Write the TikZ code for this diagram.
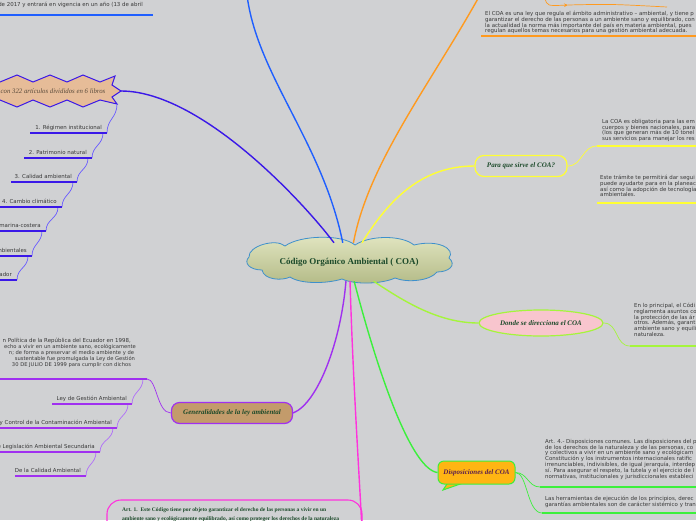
\documentclass[tikz,border=0pt]{standalone}
\usepackage{fontspec}
\setmainfont{Liberation Serif}
\newfontfamily\sansfam{DejaVu Sans}
\usetikzlibrary{shapes.geometric,arrows.meta}

\definecolor{bg}{HTML}{D0D1D3}
\definecolor{blueb}{HTML}{1F5FFF}
\definecolor{indigob}{HTML}{3A18E8}
\definecolor{indigotwig}{HTML}{6A5CFF}
\definecolor{orangeb}{HTML}{FF9A1F}
\definecolor{yellowb}{HTML}{FFFF33}
\definecolor{limeb}{HTML}{A5F53C}
\definecolor{greenb}{HTML}{3CF03C}
\definecolor{magentab}{HTML}{FF33DD}
\definecolor{purpleb}{HTML}{A030F0}
\definecolor{purpletwig}{HTML}{B070F8}
\definecolor{textgray}{HTML}{383838}
\definecolor{titlegreen}{HTML}{1C4A2A}
\definecolor{dispotext}{HTML}{5A1F4F}
\definecolor{cloudtop}{HTML}{E2E6C2}
\definecolor{cloudbot}{HTML}{B3BA86}
\definecolor{cloudedge}{HTML}{3E90CC}
\definecolor{tanfill}{HTML}{C39B6B}
\definecolor{pinkfill}{HTML}{F8C5CE}
\definecolor{calloutfill}{HTML}{FFB513}
\definecolor{starfill}{HTML}{E6BC98}
\definecolor{startext}{HTML}{5A4B3B}

\newcommand\paratextfont{\sansfam\fontsize{5.45pt}{5.8pt}\selectfont}
\newcommand\smallparafont{\sansfam\fontsize{5.2pt}{6pt}\selectfont}
\newcommand\topicfont{\fontsize{7pt}{8pt}\selectfont\bfseries\itshape}
\newcommand\centerfont{\fontsize{9pt}{10pt}\selectfont\bfseries}
\newcommand\artfont{\fontsize{5.5pt}{9pt}\selectfont\bfseries}

\begin{document}
\begin{tikzpicture}[x=1pt,y=-1pt,
  branch/.style={line width=1.4pt},
  twig/.style={line width=0.7pt},
  uline/.style={line width=1.6pt},
  para/.style={font=\paratextfont, align=left, anchor=north west, inner sep=0pt, text=textgray},
  lbl/.style={font=\paratextfont, anchor=base east, inner sep=0pt, text=textgray},
  topicbox/.style={line width=1.2pt, font=\topicfont, text=titlegreen, inner sep=2pt}]
\useasboundingbox (0,0) rectangle (696,520);
\clip (0,0) rectangle (696,520);
\fill[bg] (0,0) rectangle (696,520);

% free ends and underline ends
\coordinate[] (bluetop) at (247,-5);
\coordinate[] (orangetop) at (480,-5);
\coordinate[] (magbot) at (362,530);
\coordinate[] (startip) at (121,91);
\coordinate[] (starfoot) at (117,104);
\coordinate[] (bua) at (0,15);
\coordinate[] (bub) at (153,15);
\coordinate[] (oua) at (481,36);
\coordinate[] (oub) at (700,36);
\coordinate[] (y1a) at (597,146);
\coordinate[] (y1b) at (700,146);
\coordinate[] (y2a) at (597,203);
\coordinate[] (y2b) at (700,203);
\coordinate[] (la) at (630,346);
\coordinate[] (lb) at (700,346);
\coordinate[] (g1a) at (540,487);
\coordinate[] (g1b) at (700,487);
\coordinate[] (g2a) at (542,513);
\coordinate[] (g2b) at (700,513);
\coordinate[] (p0a) at (-5,379);
\coordinate[] (p0b) at (147,379);
\coordinate[] (p1a) at (52,404);
\coordinate[] (p1b) at (132,404);
\coordinate[] (p2a) at (-5,428);
\coordinate[] (p2b) at (117,428);
\coordinate[] (p3a) at (-5,452);
\coordinate[] (p3b) at (100,452);
\coordinate[] (p4a) at (15,476);
\coordinate[] (p4b) at (86,476);
\coordinate[] (i1a) at (30,133);
\coordinate[] (i1b) at (107,133);
\coordinate[] (i2a) at (24,158);
\coordinate[] (i2b) at (92,158);
\coordinate[] (i3a) at (11,182);
\coordinate[] (i3b) at (77,182);
\coordinate[] (i4a) at (-5,207);
\coordinate[] (i4b) at (62,207);
\coordinate[] (i5a) at (-5,231);
\coordinate[] (i5b) at (46,231);
\coordinate[] (i6a) at (-5,256);
\coordinate[] (i6b) at (32,256);
\coordinate[] (i7a) at (-5,280);
\coordinate[] (i7b) at (17,280);
\coordinate[] (relA) at (545,-2);
\coordinate[] (relB) at (568,5);
\coordinate[] (relC) at (667,7);

% central cloud
\draw[cloudedge, line width=0.8pt, top color=cloudtop, bottom color=cloudbot]
  (249,257) .. controls (248,246) and (276,238) .. (285,246)
  .. controls (300,235) and (342,234) .. (355,245)
  .. controls (370,235) and (402,235) .. (414,245)
  .. controls (438,239) and (456,249) .. (449,258)
  .. controls (457,265) and (449,272) .. (437,272)
  .. controls (430,281) and (407,283) .. (395,278)
  .. controls (382,284) and (355,285) .. (342,279)
  .. controls (326,284) and (300,284) .. (290,277)
  .. controls (282,281) and (264,280) .. (262,270)
  .. controls (250,270) and (243,263) .. cycle;
\node[minimum width=200pt, minimum height=38pt, inner sep=0pt, font=\centerfont, text=titlegreen] (coa) at (349,262) {Código Orgánico Ambiental ( COA)};

% topics
\node[topicbox, draw=yellowb, fill=bg, rounded corners=9pt, minimum width=92pt, minimum height=21pt] (sirve) at (521,166) {Para que sirve el COA?};
\node[topicbox, ellipse, draw=limeb, fill=pinkfill, minimum width=124pt, minimum height=26pt, inner sep=0pt] (direc) at (541,323) {Donde se direcciona el COA};
\draw[greenb, line width=1pt, fill=calloutfill] (449,481) -- (443,490) -- (466,482);
\node[topicbox, draw=greenb, line width=1pt, fill=calloutfill, rounded corners=6pt, minimum width=77pt, minimum height=23pt, text=dispotext] (dispo) at (476.5,472.5) {Disposiciones del COA};
\node[topicbox, draw=purpleb, fill=tanfill, rounded corners=8pt, minimum width=121pt, minimum height=21pt] (gener) at (232,413) {Generalidades de la ley ambiental};
\draw[indigob, line width=1pt, fill=starfill] (-17,76) -- (0,82) -- (17,75) -- (33,82) -- (50,75) -- (67,82) -- (83,75) -- (100,82) -- (115,76) -- (112,85) -- (startip) -- (112,97) -- (starfoot) -- (100,100) -- (83,107) -- (67,100) -- (50,107) -- (33,100) -- (17,107) -- (0,100) -- (-17,107) -- cycle;
\node[inner sep=0pt, font=\fontsize{6.8pt}{8pt}\selectfont\itshape, text=startext] (libros) at (53,91) {con 322 artículos divididos en 6 libros};
\draw[magentab, line width=1.1pt, rounded corners=14pt] (107,545) -- (107,500) -- (362,500) -- (362,545);
\node[anchor=north west, inner sep=0pt, align=left, font=\artfont, text=titlegreen] (art1) at (122,507) {Art. 1.\ \ Este Código tiene por objeto garantizar el derecho de las personas a vivir en un\\ambiente sano y ecológicamente equilibrado, así como proteger los derechos de la naturaleza};

% main branches
\draw[branch, blueb] (coa.108) .. controls +(-20,-100) and +(10,80) .. (bluetop);
\draw[branch, orangeb] (coa.77) .. controls +(15,-80) and +(-50,90) .. (orangetop);
\draw[branch, yellowb] (coa.56) .. controls +(25,-40) and +(-55,0) .. (sirve.west);
\draw[branch, limeb] (coa.322) .. controls +(30,20) and +(-40,0) .. (direc.west);
\draw[branch, greenb] (coa.285) .. controls +(26,100) and +(-25,-3) .. (dispo.west);
\draw[branch, magentab] (coa.273) .. controls +(3,100) and +(-3,-60) .. (magbot);
\draw[branch, purpleb] (coa.261) .. controls +(-5,60) and +(25,-10) .. (gener.east);
\draw[branch, indigob] (coa.128) .. controls +(-30,-40) and +(80,0) .. (startip);

% small orange relation at the top
\draw[twig, orangeb, -{Stealth[length=4pt,width=3.5pt]}] (relA) .. controls (547,6) .. (relB);
\draw[twig, orangeb] (relB) .. controls (610,4) .. (relC);

% twigs
\draw[twig, yellowb] (sirve.east) .. controls +(15,0) and +(-15,0) .. (y1a);
\draw[twig, limeb] (direc.east) .. controls +(15,0) and +(-15,0) .. (la);
\draw[twig, greenb] (dispo.east) .. controls +(12,0) and +(-12,0) .. (g1a);
\draw[twig, greenb] (dispo.east) .. controls +(12,0) and +(-15,0) .. (g2a);
\draw[twig, purpleb] (gener.west) .. controls +(-14,0) and +(10,0) .. (p0b);
\foreach \a/\b in {p0b/p1b, p1b/p2b, p2b/p3b, p3b/p4b}
  \draw[twig, purpletwig] ([xshift=-4pt]\a) .. controls +(0,12) and +(0,-12) .. (\b);
\draw[twig, indigotwig] (starfoot) .. controls +(0,14) and +(0,-14) .. (i1b);
\foreach \a/\b in {i1b/i2b, i2b/i3b, i3b/i4b, i4b/i5b, i5b/i6b, i6b/i7b}
  \draw[twig, indigotwig] ([xshift=-4pt]\a) .. controls +(0,12) and +(0,-12) .. (\b);

% underlines
\draw[uline, blueb] (bua) -- (bub);
\draw[uline, orangeb] (oua) -- (oub);
\draw[uline, yellowb] (y1a) -- (y1b);
\draw[uline, yellowb] (y2a) -- (y2b);
\draw[uline, limeb] (la) -- (lb);
\draw[uline, greenb] (g1a) -- (g1b);
\draw[uline, greenb] (g2a) -- (g2b);
\foreach \a/\b in {p0a/p0b, p1a/p1b, p2a/p2b, p3a/p3b, p4a/p4b}
  \draw[uline, purpleb] (\a) -- (\b);
\foreach \a/\b in {i1a/i1b, i2a/i2b, i3a/i3b, i4a/i4b, i5a/i5b, i6a/i6b, i7a/i7b}
  \draw[uline, indigob] (\a) -- (\b);

% texts
\node[lbl] (bluetxt) at (143,6.5) {de 2017 y entrará en vigencia en un año (13 de abril};
\node[para] (orangetxt) at (485,11) {El COA es una ley que regula el ámbito administrativo – ambiental, y tiene p\\garantizar el derecho de las personas a un ambiente sano y equilibrado, con\\la actualidad la norma más importante del país en materia ambiental, pues\\regulan aquellos temas necesarios para una gestión ambiental adecuada.};
\node[para] (y1txt) at (602,119) {La COA es obligatoria para las em\\cuerpos y bienes nacionales, para\\(los que generan más de 10 tonel\\sus servicios para manejar los res};
\node[para] (y2txt) at (600,175) {Este trámite te permitirá dar segui\\puede ayudarte para en la planeac\\así como la adopción de tecnología\\ambientales.};
\node[para] (ltxt) at (634,303) {En lo principal, el Códi\\reglamenta asuntos co\\la protección de las ár\\otros. Además, garant\\ambiente sano y equili\\naturaleza.};
\node[para] (g1txt) at (545,439) {Art. 4.- Disposiciones comunes. Las disposiciones del p\\de los derechos de la naturaleza y de las personas, co\\y colectivos a vivir en un ambiente sano y ecológicam\\Constitución y los instrumentos internacionales ratific\\irrenunciables, indivisibles, de igual jerarquía, interdep\\sí. Para asegurar el respeto, la tutela y el ejercicio de l\\normativas, institucionales y jurisdiccionales estableci};
\node[para] (g2txt) at (545,496) {Las herramientas de ejecución de los principios, derec\\garantías ambientales son de carácter sistémico y tran};
\node[lbl] (gl342) at (131,342) {n Política de la República del Ecuador en 1998,};
\foreach \x/\y/\t in {70/348/{echo a vivir en un ambiente sano, ecológicamente}, 71.5/354/{n; de forma a preservar el medio ambiente y de}, 75/360/{sustentable fue promulgada la Ley de Gestión}, 71.5/366/{30 DE JULIO DE 1999 para cumplir con dichos}}
  \node[lbl, font=\smallparafont, anchor=base] (gl\y) at (\x,\y) {\t};
\foreach \e/\t in {p1b/{Ley de Gestión Ambiental}, p2b/{Ley de Prevención y Control de la Contaminación Ambiental}, p3b/{Texto Unificado de Legislación Ambiental Secundaria}, p4b/{De la Calidad Ambiental}, i1b/{1. Régimen institucional}, i2b/{2. Patrimonio natural}, i3b/{3. Calidad ambiental}, i4b/{4. Cambio climático}, i5b/{5. Zona marina-costera}, i6b/{6. Incentivos ambientales}, i7b/{7. Régimen sancionador}}
  \node[lbl] (t\e) at ([xshift=-5pt,yshift=4pt]\e) {\t};
\end{tikzpicture}
\end{document}
